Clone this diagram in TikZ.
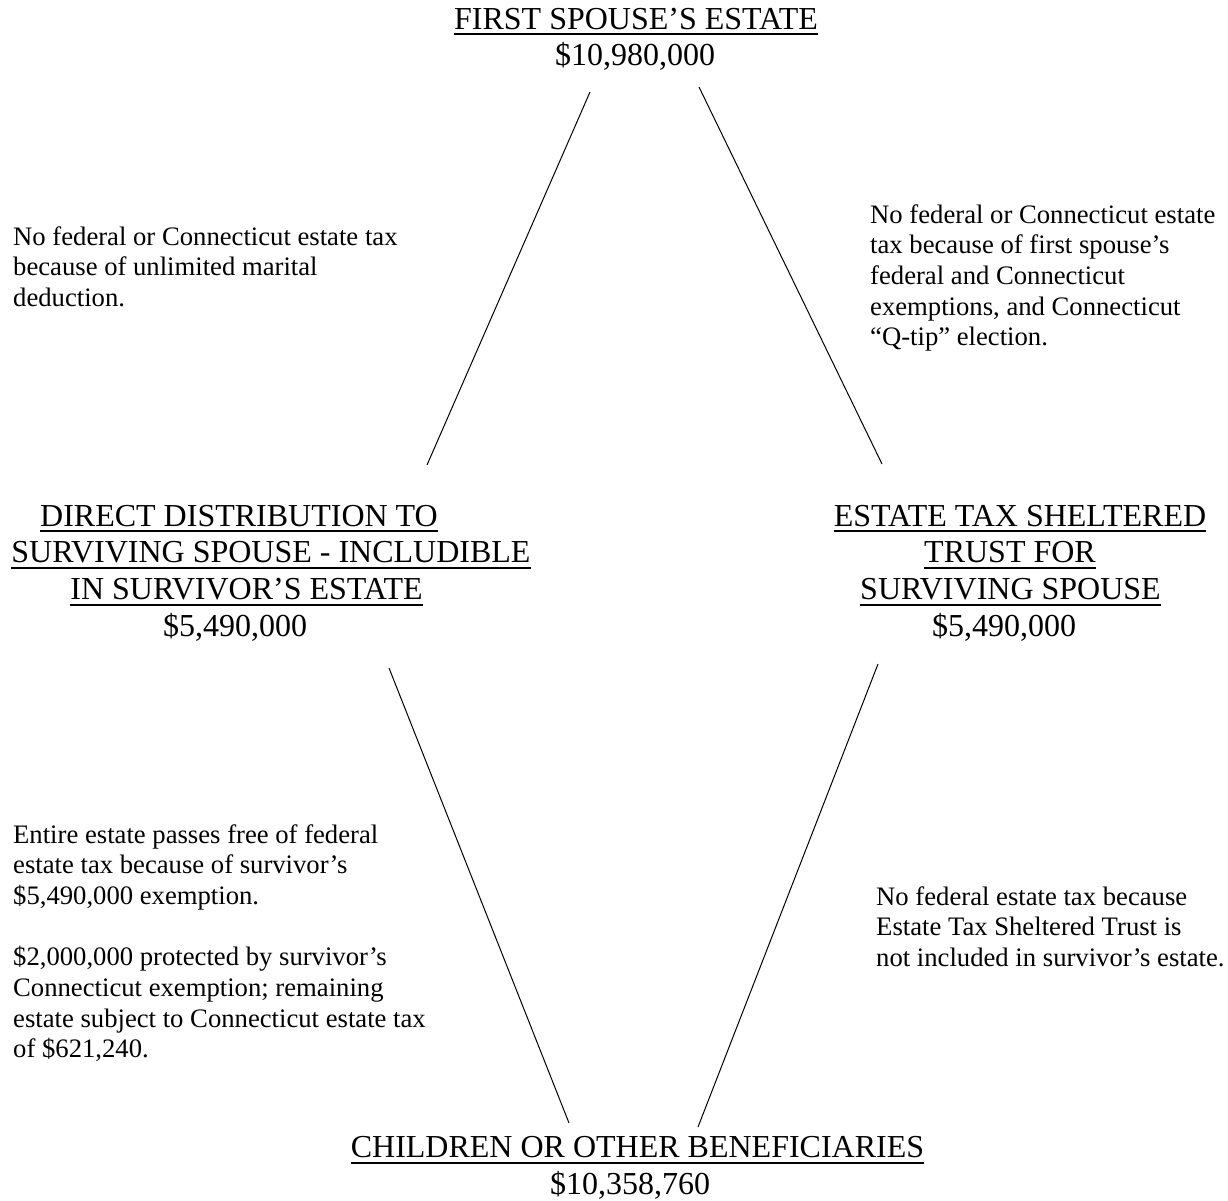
\documentclass[tikz,border=0pt]{standalone}
\usepackage{fontspec}
\setmainfont{Liberation Serif}
\newcommand\hfnt{\fontsize{32}{36.8}\selectfont}
\newcommand\bfnt{\fontsize{26.67}{30.67}\selectfont}
\begin{document}
\begin{tikzpicture}[x=1pt,y=1pt,
  hd/.style={inner sep=0pt, anchor=base, font=\hfnt},
  bd/.style={inner sep=0pt, anchor=base west, font=\bfnt},
  ul/.style={line width=2pt},
  conn/.style={line width=1pt}]
\useasboundingbox (0,0) rectangle (1228,-1201);

% top heading
\node[hd] (t1) at (636,-29.3) {FIRST SPOUSE’S ESTATE};
\node[hd] (t2) at (635,-66) {\$10,980,000};

% left heading
\node[hd] (l1) at (239,-526) {DIRECT DISTRIBUTION TO};
\node[hd] (l2) at (271,-562.8) {SURVIVING SPOUSE - INCLUDIBLE};
\node[hd] (l3) at (246.5,-599.6) {IN SURVIVOR’S ESTATE};
\node[hd] (l4) at (235,-636.4) {\$5,490,000};

% right heading
\node[hd] (r1) at (1020,-526) {ESTATE TAX SHELTERED};
\node[hd] (r2) at (1010,-562.8) {TRUST FOR};
\node[hd] (r3) at (1010.5,-599.6) {SURVIVING SPOUSE};
\node[hd] (r4) at (1004,-636.4) {\$5,490,000};

% bottom heading
\node[hd] (b1) at (637.5,-1157.5) {CHILDREN OR OTHER BENEFICIARIES};
\node[hd] (b2) at (630,-1194.3) {\$10,358,760};

% underlines
\foreach \n in {t1,l1,l2,l3,r1,r2,r3,b1}{
  \draw[ul] ([yshift=-5pt]\n.base west) -- ([yshift=-5pt]\n.base east);
}

% explanatory texts
\node[bd] (n1) at (13,-245) {\vtop{\hbox{No federal or Connecticut estate tax}\hbox{because of unlimited marital}\hbox{deduction.}}};
\node[bd] (n2) at (870,-223) {\vtop{\hbox{No federal or Connecticut estate}\hbox{tax because of first spouse’s}\hbox{federal and Connecticut}\hbox{exemptions, and Connecticut}\hbox{“Q-tip” election.}}};
\node[bd] (n3) at (13,-843) {\vtop{\hbox{Entire estate passes free of federal}\hbox{estate tax because of survivor’s}\hbox{\$5,490,000 exemption.}\hbox{}\hbox{\$2,000,000 protected by survivor’s}\hbox{Connecticut exemption; remaining}\hbox{estate subject to Connecticut estate tax}\hbox{of \$621,240.}}};
\node[bd] (n4) at (876,-905) {\vtop{\hbox{No federal estate tax because}\hbox{Estate Tax Sheltered Trust is}\hbox{not included in survivor’s estate.}}};

% connector end points
\coordinate (c1a) at (590,-92);
\coordinate (c1b) at (427,-465);
\coordinate (c2a) at (699,-87);
\coordinate (c2b) at (882,-464);
\coordinate (c3a) at (389,-668);
\coordinate (c3b) at (569,-1123);
\coordinate (c4a) at (878,-664);
\coordinate (c4b) at (698,-1127);

\draw[conn] (c1a) -- (c1b);
\draw[conn] (c2a) -- (c2b);
\draw[conn] (c3a) -- (c3b);
\draw[conn] (c4a) -- (c4b);
\end{tikzpicture}
\end{document}
